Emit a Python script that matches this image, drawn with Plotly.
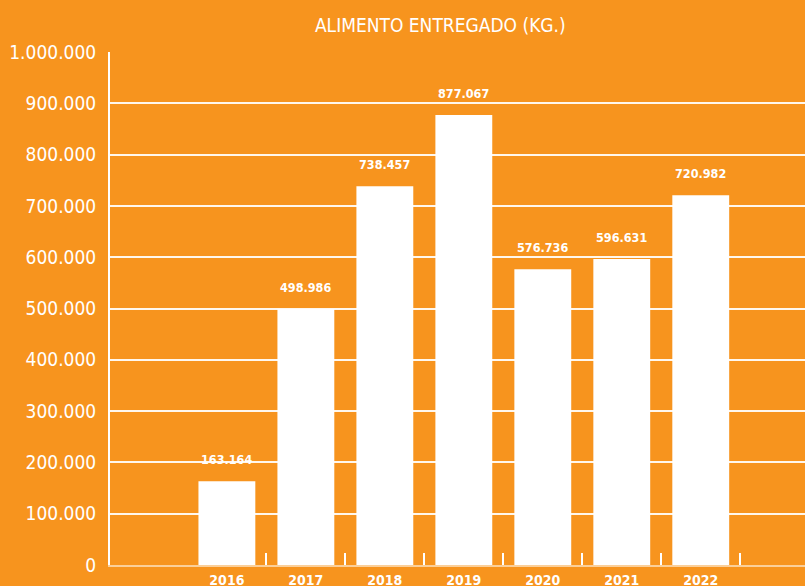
import plotly.graph_objects as go

# datos: alimento entregado por año (kg)
years = [2016, 2017, 2018, 2019, 2020, 2021, 2022]
kg = [163164, 498986, 738457, 877067, 576736, 596631, 720982]
y_ticks = [0, 100000, 200000, 300000, 400000, 500000, 600000, 700000, 800000, 900000, 1000000]
boundaries = [2016.5, 2017.5, 2018.5, 2019.5, 2020.5, 2021.5, 2022.5]

ORANGE = "#F7941E"
FONT = "DejaVu Sans Condensed, Roboto, sans-serif"


def miles(v):
    return f"{v:,}".replace(",", ".")


fig = go.Figure()

fig.add_trace(go.Bar(
    x=years, y=kg,
    width=0.72,
    marker=dict(color="white", line=dict(width=0)),
    hoverinfo="skip",
    showlegend=False,
))

# trace invisible para el eje de las marcas entre categorias
fig.add_trace(go.Scatter(
    x=boundaries, y=[0] * len(boundaries),
    xaxis="x2", mode="markers",
    marker=dict(opacity=0), hoverinfo="skip", showlegend=False,
))

for yr, v in zip(years, kg):
    fig.add_annotation(
        x=yr, y=v, text=f"<b>{miles(v)}</b>",
        showarrow=False, yanchor="bottom", yshift=12,
        font=dict(family=FONT, size=12.5, color="white"),
    )

x_range = [2014.52, 2023.32]

fig.update_layout(
    width=805, height=586,
    paper_bgcolor=ORANGE, plot_bgcolor=ORANGE,
    margin=dict(l=110, r=0, t=52, b=21, autoexpand=False),
    separators=",.",
    title=dict(
        text="ALIMENTO ENTREGADO (KG.)",
        x=0.547, xref="container", xanchor="center",
        y=0.957, yref="container", yanchor="middle",
        font=dict(family=FONT, size=19, color="white"),
    ),
    xaxis=dict(
        range=x_range,
        tickvals=years,
        ticktext=[f"<b>{y}</b>" for y in years],
        ticks="",
        showgrid=False, zeroline=False,
        showline=True, linecolor="rgba(255,255,255,0.55)", linewidth=2,
        tickfont=dict(family=FONT, size=14, color="white"),
        ticklabelstandoff=1,
        automargin=False,
    ),
    xaxis2=dict(
        overlaying="x", matches="x", range=x_range,
        tickvals=boundaries, showticklabels=False,
        ticks="inside", ticklen=12, tickwidth=2, tickcolor="white",
        showgrid=False, zeroline=False, showline=False,
        automargin=False,
    ),
    yaxis=dict(
        range=[0, 1000000],
        tickvals=y_ticks,
        tickformat=",.0f",
        showgrid=True, gridcolor="rgba(255,255,255,0.92)", gridwidth=1.5,
        zeroline=False,
        showline=True, linecolor="white", linewidth=2,
        ticks="",
        ticklabelstandoff=8,
        tickfont=dict(family=FONT, size=19, color="white"),
        automargin=False,
    ),
)

# sin margen del body para que la figura quede en la esquina
fig.write_html("out.html", config={"displayModeBar": False},
               post_script="document.body.style.margin='0';")
